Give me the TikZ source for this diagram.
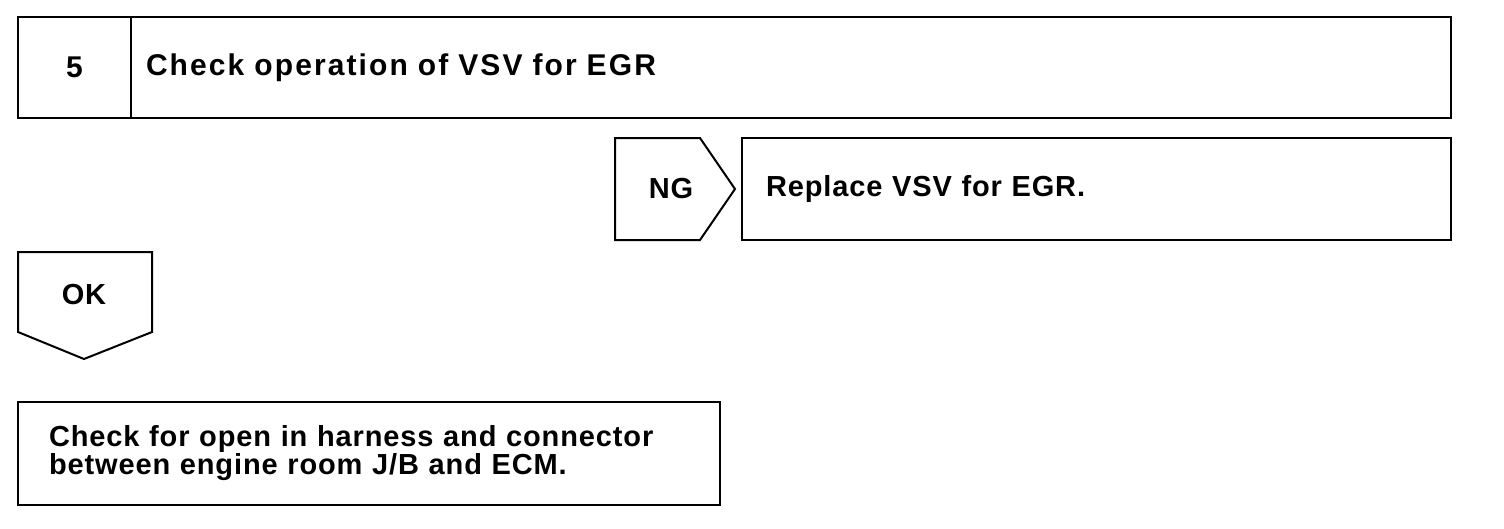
\documentclass[tikz,border=0pt]{standalone}
\usepackage{fontspec}
\setmainfont{Liberation Sans}[LetterSpace=3]
\usetikzlibrary{positioning}

\begin{document}
\begin{tikzpicture}[x=1pt,y=-1pt,line width=2pt,
  box/.style={draw,outer sep=0pt,inner ysep=0pt,align=left,
    font=\bfseries\fontsize{29}{27}\selectfont},
  head/.style={font=\bfseries\fontsize{30}{29}\selectfont\addfontfeature{LetterSpace=7}},
  tag/.style={font=\bfseries\fontsize{29}{27}\selectfont}]
\useasboundingbox (0,0) rectangle (1504,528);
% step header
\node[box,head,anchor=north west,align=center,inner xsep=0pt,
  text width=113pt,minimum height=101pt] (num) at (18,17) {5};
\node[box,head,right=0pt of num,inner xsep=15pt,
  text width=1290pt,minimum height=101pt] (title) {Check operation of VSV for EGR};
% NG branch
\node[box,anchor=north west,inner xsep=24pt,
  text width=661pt,minimum height=102pt] (fix) at (742,138) {Replace VSV for EGR.};
\draw (615,138) -- (700,138) -- (735,189) -- (700,240) -- (615,240) -- cycle;
\node[tag] (ng) at (671,189) {NG};
% OK branch
\draw (18,252) -- (152,252) -- (152,332) -- (84,359) -- (18,332) -- cycle;
\node[tag] (ok) at (84,295) {OK};
\node[box,anchor=north west,inner xsep=31pt,
  text width=640pt,minimum height=103pt] (next) at (18,402)
  {Check for open in harness and connector\\between engine room J/B and ECM.};
\end{tikzpicture}
\end{document}
